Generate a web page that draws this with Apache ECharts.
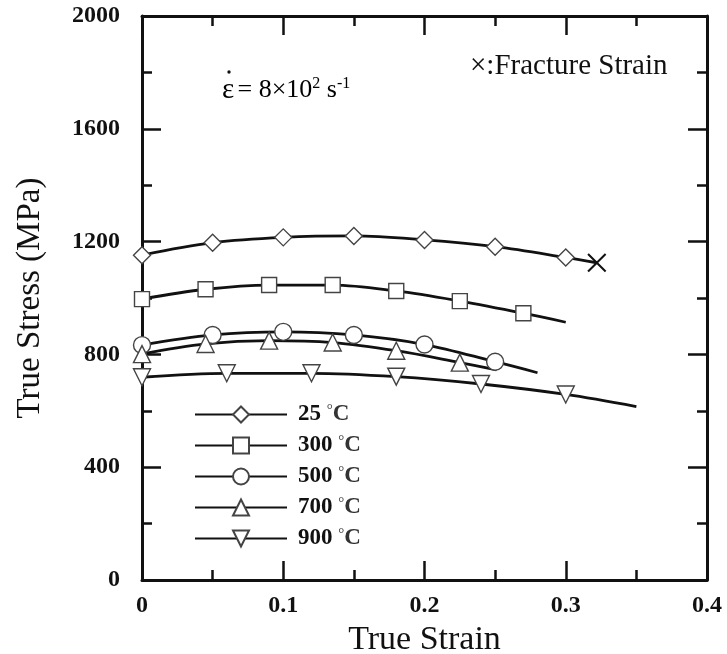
<!DOCTYPE html>
<html>
<head>
<meta charset="utf-8">
<script src="https://cdn.jsdelivr.net/npm/echarts@6/dist/echarts.min.js"></script>
<style>
  html, body { margin: 0; padding: 0; background: #fff; }
  #chart { width: 727px; height: 654px; }
</style>
</head>
<body>
<div id="chart"></div>
<script>
// ---- data ----
var names = ['25', '300', '500', '700', '900'];

var strain25 = [0, 0.05, 0.10, 0.15, 0.20, 0.25, 0.30];
var stress25 = [1152, 1196, 1215, 1220, 1206, 1182, 1144];
var fracture25 = [0.322, 1125];

var strain300 = [0, 0.045, 0.09, 0.135, 0.18, 0.225, 0.27];
var stress300 = [996, 1031, 1046, 1046, 1025, 989, 946];
var end300 = [0.30, 914];

var strain500 = [0, 0.05, 0.10, 0.15, 0.20, 0.25];
var stress500 = [833, 869, 880, 869, 835, 774];
var end500 = [0.28, 735];

var strain700 = [0, 0.045, 0.09, 0.135, 0.18, 0.225];
var stress700 = [801, 837, 849, 842, 813, 771];
var end700 = [0.251, 745];

var strain900 = [0, 0.06, 0.12, 0.18, 0.24, 0.30];
var stress900 = [719, 733, 733, 721, 695, 658];
var end900 = [0.35, 615];

var xTicks = [0, 0.1, 0.2, 0.3, 0.4];
var yTicks = [0, 400, 800, 1200, 1600, 2000];

var serif = 'Liberation Serif, Times New Roman, serif';
var ink = '#111';
var crossPath = 'path://M0,1.5L1.5,0L10,8.5L18.5,0L20,1.5L11.5,10L20,18.5L18.5,20L10,11.5L1.5,20L0,18.5L8.5,10Z';

var chart = echarts.init(document.getElementById('chart'));

function makeSeries(name, xs, ys, end, symbol, rotate, endSymbol) {
    var data = xs.map(function (x, i) { return [x, ys[i]]; });
    if (endSymbol) {
        data.push({
            value: end,
            symbol: endSymbol,
            symbolSize: 19,
            symbolRotate: 0,
            itemStyle: { color: ink, borderWidth: 0 }
        });
    } else {
        data.push({ value: end, symbol: 'none' });
    }
    return {
        name: name,
        type: 'line',
        smooth: 0.35,
        data: data,
        symbol: symbol,
        symbolRotate: rotate || 0,
        symbolSize: symbol === 'rect' ? 15 : 17,
        showAllSymbol: true,
        lineStyle: { color: ink, width: 2.8 },
        itemStyle: { color: '#fff', borderColor: '#444', borderWidth: 1.4 },
        z: 3
    };
}

function axisCommon() {
    return {
        type: 'value',
        axisLine: { show: true, onZero: false, lineStyle: { color: ink, width: 3 } },
        axisTick: { show: true, inside: true, length: 19, lineStyle: { color: ink, width: 2.5 } },
        minorTick: { show: true, splitNumber: 2, length: 10, lineStyle: { color: ink, width: 2.5 } },
        splitLine: { show: false }
    };
}

function getOption() {
    var xBottom = Object.assign(axisCommon(), {
        min: 0, max: 0.4, interval: 0.1,
        position: 'bottom',
        name: 'True Strain',
        nameLocation: 'middle',
        nameGap: 32,
        nameTextStyle: { fontFamily: serif, fontSize: 34, color: ink },
        axisLabel: {
            margin: 14,
            fontFamily: serif, fontWeight: 'bold', fontSize: 24, color: ink,
            formatter: function (v) {
                var t = xTicks.filter(function (k) { return Math.abs(k - v) < 1e-9; });
                return t.length ? String(t[0]) : '';
            }
        }
    });
    var xTop = Object.assign(axisCommon(), {
        min: 0, max: 0.4, interval: 0.1, position: 'top',
        axisLabel: { show: false }
    });
    var yLeft = Object.assign(axisCommon(), {
        min: 0, max: 2000, interval: 400,
        position: 'left',
        name: 'True Stress (MPa)',
        nameLocation: 'middle',
        nameGap: 95,
        nameTextStyle: { fontFamily: serif, fontSize: 33, color: ink },
        axisLabel: {
            margin: 22,
            fontFamily: serif, fontWeight: 'bold', fontSize: 24, color: ink,
            formatter: function (v) { return yTicks.indexOf(v) >= 0 ? String(v) : ''; }
        }
    });
    var yRight = Object.assign(axisCommon(), {
        min: 0, max: 2000, interval: 400, position: 'right',
        axisLabel: { show: false }
    });

    return {
        animation: false,
        backgroundColor: '#fff',
        grid: { left: 142, right: 20, top: 16, bottom: 74, outerBoundsMode: 'none' },
        xAxis: [xBottom, xTop],
        yAxis: [yLeft, yRight],
        legend: {
            orient: 'vertical',
            left: 189,
            top: 398,
            itemWidth: 92,
            itemHeight: 20,
            itemGap: 8,
            data: names,
            formatter: function (n) { return '{b|' + n + ' }{d|°}{c|C}'; },
            textStyle: {
                padding: [0, 0, 0, 6],
                rich: {
                    b: { fontFamily: serif, fontWeight: 'bold', fontSize: 23, color: ink },
                    d: { fontFamily: serif, fontSize: 15, color: '#333', verticalAlign: 'top', padding: [0, 0, 6, 0] },
                    c: { fontFamily: serif, fontWeight: 'bold', fontSize: 23, color: '#333' }
                }
            }
        },
        graphic: [
            {
                type: 'text',
                left: 470,
                top: 52,
                style: { text: '×:Fracture Strain', font: '29px ' + serif, fill: ink }
            },
            {
                type: 'text',
                left: 222,
                top: 76,
                style: {
                    text: '{e|ε} {a|= 8×10}{s|2}{a| s}{s|-1}',
                    rich: {
                        e: { fontFamily: serif, fontSize: 29, color: ink },
                        a: { fontFamily: serif, fontSize: 26, color: ink },
                        s: { fontFamily: serif, fontSize: 16, color: ink, verticalAlign: 'top' }
                    }
                }
            },
            {
                type: 'circle',
                shape: { cx: 229, cy: 72, r: 1.7 },
                style: { fill: ink }
            }
        ],
        series: [
            makeSeries('25', strain25, stress25, fracture25, 'diamond', 0, crossPath),
            makeSeries('300', strain300, stress300, end300, 'rect', 0),
            makeSeries('500', strain500, stress500, end500, 'circle', 0),
            makeSeries('700', strain700, stress700, end700, 'triangle', 0),
            makeSeries('900', strain900, stress900, end900, 'triangle', 180)
        ]
    };
}

chart.setOption(getOption());
</script>
</body>
</html>
